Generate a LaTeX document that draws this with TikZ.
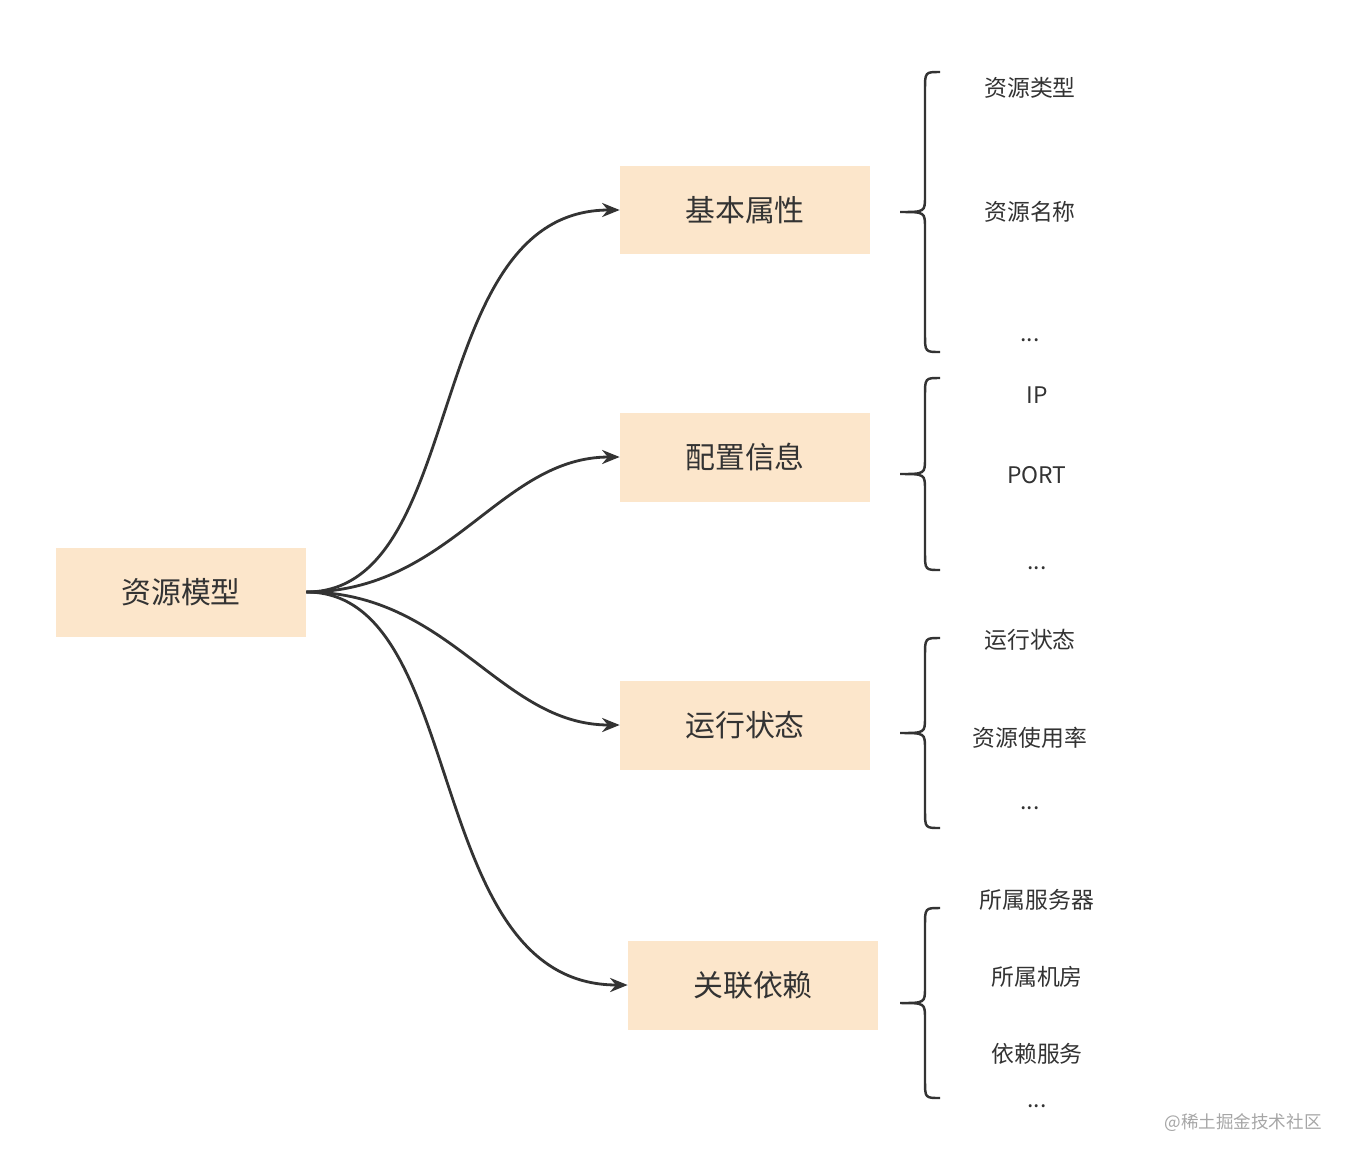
\documentclass[tikz,border=0pt]{standalone}
\usepackage{fontspec}
\setmainfont{Noto Sans CJK SC}
\usetikzlibrary{arrows.meta}
\definecolor{boxfill}{HTML}{FCE6CB}
\definecolor{inkgrey}{HTML}{333333}
\tikzset{
  mainbox/.style={fill=boxfill,minimum width=5cm,minimum height=1.78cm,font=\fontsize{17}{20}\selectfont,text=inkgrey},
  item/.style={font=\fontsize{13}{16}\selectfont,text=inkgrey},
  link/.style={-{Stealth[length=10pt,width=8pt]},line width=1.6pt,draw=inkgrey},
  brace/.style={line width=1.4pt,draw=inkgrey}
}
% brace with tip at (x,m), from y=a to y=b
\newcommand{\curlybrace}[3]{%
  \draw[brace] (940,#1) .. controls (925,#1) .. (925,#1+18) -- (925,#3-16)
    .. controls (925,#3) .. (900,#3) .. controls (925,#3) .. (925,#3+16)
    -- (925,#2-18) .. controls (925,#2) .. (940,#2);}
\begin{document}
\begin{tikzpicture}[x=0.02cm,y=-0.02cm]
\useasboundingbox (0,0) rectangle (1352,1164);
\node[mainbox] (model) at (181,592) {资源模型};
\node[mainbox] (basic) at (745,210) {基本属性};
\node[mainbox] (config) at (745,457) {配置信息};
\node[mainbox] (state) at (745,725) {运行状态};
\node[mainbox] (relation) at (753,985) {关联依赖};
\draw[link] (model.east) .. controls (470,592) and (420,210) .. (basic.west);
\draw[link] (model.east) .. controls (450,592) and (500,457) .. (config.west);
\draw[link] (model.east) .. controls (450,592) and (500,725) .. (state.west);
\draw[link] (model.east) .. controls (470,592) and (420,985) .. (relation.west);
% braces
\curlybrace{72}{352}{212}
\curlybrace{378}{570}{474}
\curlybrace{638}{828}{733}
\curlybrace{908}{1098}{1003}
% items
\node[item] (b1) at (1030,88) {资源类型};
\node[item] (b2) at (1030,212) {资源名称};
\node[item] (b3) at (1030,340) {...};
\node[item] (c1) at (1037,395) {IP};
\node[item] (c2) at (1037,475) {PORT};
\node[item] (c3) at (1037,568) {...};
\node[item] (s1) at (1030,640) {运行状态};
\node[item] (s2) at (1030,738) {资源使用率};
\node[item] (s3) at (1030,808) {...};
\node[item] (r1) at (1037,900) {所属服务器};
\node[item] (r2) at (1037,977) {所属机房};
\node[item] (r3) at (1037,1054) {依赖服务};
\node[item] (r4) at (1037,1106) {...};
\node[font=\fontsize{10}{12}\selectfont,text=gray!70] (mark) at (1243,1123) {@稀土掘金技术社区};
\end{tikzpicture}
\end{document}
